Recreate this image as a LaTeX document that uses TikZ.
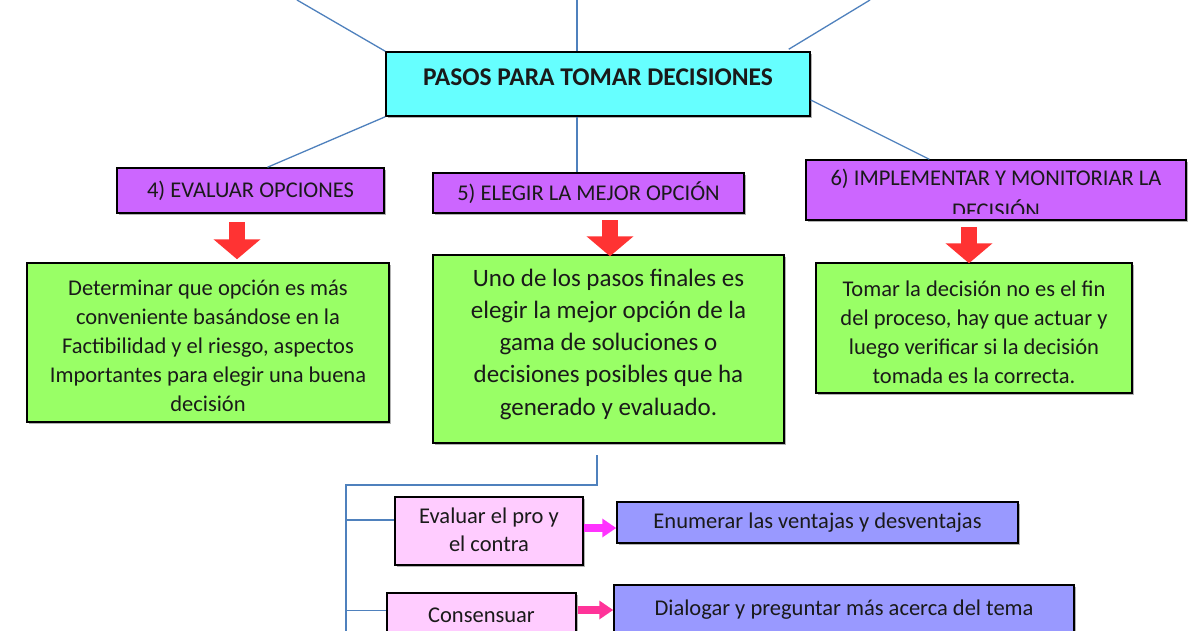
\documentclass[tikz,border=0pt]{standalone}
\usepackage{fontspec}
\setmainfont{Carlito}
\usetikzlibrary{arrows.meta,calc,shadows}
\definecolor{cyanbox}{HTML}{66FFFF}
\definecolor{purpbox}{HTML}{CC66FF}
\definecolor{greenbox}{HTML}{99FF66}
\definecolor{pinkbox}{HTML}{FFCCFF}
\definecolor{bluebox}{HTML}{9999FF}
\definecolor{linecol}{HTML}{4F81BD}
\definecolor{redcol}{HTML}{FF3333}
\definecolor{magone}{HTML}{FF33FF}
\definecolor{magtwo}{HTML}{FF3399}
\definecolor{txt}{HTML}{1A1A1A}
\begin{document}
\begin{tikzpicture}[x=1pt,y=-1pt,
  box/.style={draw=black, line width=1.5pt, inner sep=0pt, align=center, text=txt,
    drop shadow={shadow xshift=1.5pt, shadow yshift=-1.5pt, opacity=0.3, fill=black}},
  conn/.style={draw=linecol, line width=1.3pt},
  redarrow/.style={draw=redcol, line width=16pt, -{Triangle[width=46pt,length=20pt]}},
  magarrow/.style={line width=8pt, -{Triangle[width=18pt,length=14pt]}},
  body/.style={font=\fontsize{22.5}{29}\selectfont},
]
\clip (0,0) rectangle (1200,630);
\fill[white] (0,0) rectangle (1200,630);

% central node
\node[box, fill=cyanbox, minimum width=424pt, minimum height=64pt,
  font=\fontsize{25.5}{30}\selectfont\bfseries, text height=10pt, text depth=7pt] (c) at (598,84) {PASOS PARA TOMAR DECISIONES};

% purple step nodes
\node[box, fill=purpbox, minimum width=267pt, minimum height=45pt, font=\fontsize{22.5}{27}\selectfont] (p4) at (250.5,190.5) {4) EVALUAR OPCIONES};
\node[box, fill=purpbox, minimum width=311pt, minimum height=40pt, font=\fontsize{22.5}{27}\selectfont] (p5) at (588.5,193) {5) ELEGIR LA MEJOR OPCIÓN};
\node[box, fill=purpbox, minimum width=380pt, minimum height=60pt] (p6) at (996,190) {};
\begin{scope}
  \clip (806,160) rectangle (1186,213);
  \node[anchor=base, inner sep=0pt, text=txt, font=\fontsize{22.5}{29}\selectfont] (p6t) at (996,185)
    {\begin{tabular}[t]{@{}c@{}}6) IMPLEMENTAR Y MONITORIAR LA\\[4pt]DECISIÓN\end{tabular}};
\end{scope}

% connectors from the central node
\coordinate (tl) at (297,0);
\coordinate (tm) at (577,0);
\coordinate (tr) at (870,0);
\draw[conn] (tl) -- (c.north west);
\draw[conn] (tm) -- ($(c.north)+(-21,0)$);
\draw[conn] (tr) -- ($(c.north east)+(-22,-2)$);
\draw[conn] (c.south west) -- ($(p4.north)+(17,0)$);
\coordinate (cs) at ($(c.south)+(-21,0)$);
\draw[conn] (cs) -- (cs |- p5.north);
\draw[conn] ($(c.east)+(0,16)$) -- ($(p6.north west)+(124,0)$);

% green description nodes
\node[box, fill=greenbox, minimum width=362pt, minimum height=159pt, body, text height=138pt] (g4) at (208,342.5)
 {Determinar que opción es más\\conveniente basándose en la\\Factibilidad y el riesgo, aspectos\\Importantes para elegir una buena\\decisión};
\node[box, fill=greenbox, minimum width=351pt, minimum height=188pt,
  font=\fontsize{25}{32.3}\selectfont, text depth=14pt] (g5) at (608.5,349)
 {Uno de los pasos finales es\\elegir la mejor opción de la\\gama de soluciones o\\decisiones posibles que ha\\generado y evaluado.};
\node[box, fill=greenbox, minimum width=316pt, minimum height=130pt, body, text height=110pt, text depth=0pt] (g6) at (974,328)
 {Tomar la decisión no es el fin\\del proceso, hay que actuar y\\luego verificar si la decisión\\tomada es la correcta.};

% red arrows
\coordinate (r4) at (237,222);
\coordinate (r5) at (610,220);
\coordinate (r6) at (969,227);
\draw[redarrow] (r4) -- ($(r4 |- g4.north)+(0,-3)$);
\draw[redarrow] (r5) -- ($(r5 |- g5.north)+(0,2)$);
\draw[redarrow] (r6) -- ($(r6 |- g6.north)+(0,1)$);

% lower tree
\coordinate (t5) at (597,455);
\coordinate (j1) at (597,485);
\coordinate (j2) at (346,485);
\coordinate (jend) at (346,640);
\draw[conn] (t5) -- (j1) -- (j2) -- (jend);

\node[box, fill=pinkbox, minimum width=188pt, minimum height=68pt,
  font=\fontsize{22.5}{28}\selectfont, text depth=3pt] (pk1) at (489,531) {Evaluar el pro y\\el contra};
\node[box, fill=pinkbox, minimum width=189pt, minimum height=57pt,
  font=\fontsize{22.5}{28}\selectfont, text height=15pt, text depth=14pt] (pk2) at (481.5,621.5) {Consensuar};
\draw[conn] ($(pk1.west -| j2)+(0,-11)$) -- ($(pk1.west)+(0,-11)$);
\draw[conn] ($(pk2.west -| j2)+(0,-11)$) -- ($(pk2.west)+(0,-11)$);

\node[box, fill=bluebox, minimum width=401pt, minimum height=41pt,
  font=\fontsize{22.5}{27}\selectfont] (b1) at (817.5,522.5) {Enumerar las ventajas y desventajas};
\node[box, fill=bluebox, minimum width=460pt, minimum height=60pt,
  font=\fontsize{22.5}{27}\selectfont, text height=15pt, text depth=15pt] (b2) at (844,615) {Dialogar y preguntar más acerca del tema};

\coordinate (m1) at (584,528);
\coordinate (m2) at (578,610);
\draw[magarrow, draw=magone] (m1) -- (m1 -| b1.west);
\draw[magarrow, draw=magtwo] (m2) -- (m2 -| b2.west);
\end{tikzpicture}
\end{document}
